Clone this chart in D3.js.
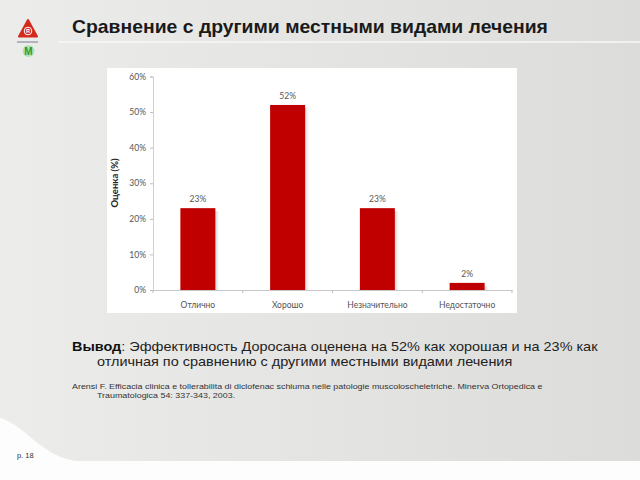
<!DOCTYPE html>
<html><head><meta charset="utf-8">
<script src="https://cdn.jsdelivr.net/npm/d3@7/dist/d3.min.js"></script>
<style>body{margin:0;padding:0;overflow:hidden}svg{display:block}</style>
</head><body>
<script>
const categories = ["Отлично", "Хорошо", "Незначительно", "Недостаточно"];
const values = [0.23, 0.52, 0.23, 0.02];
const valueLabels = ["23%", "52%", "23%", "2%"];
const yTicks = [0, 0.1, 0.2, 0.3, 0.4, 0.5, 0.6];
const title = "Сравнение с другими местными видами лечения";
const yTitle = "Оценка (%)";
const conclusionBold = "Вывод";
const conclusion1 = ": Эффективность Доросана оценена на 52% как хорошая и на 23% как";
const conclusion2 = "отличная по сравнению с другими местными видами лечения";
const ref1 = "Arensi F. Efficacia clinica e tollerabilita di diclofenac schiuma nelle patologie muscoloscheletriche. Minerva Ortopedica e";
const ref2 = "Traumatologica 54: 337-343, 2003.";
const pageLabel = "p. 18";

const W = 640, H = 480;
const svg = d3.select("body").append("svg").attr("width", W).attr("height", H);
const defs = svg.append("defs");
const bg = defs.append("linearGradient").attr("id", "bg").attr("x1", 0).attr("x2", 1).attr("y1", 0).attr("y2", 0);
bg.append("stop").attr("offset", 0).attr("stop-color", "#ececea");
bg.append("stop").attr("offset", 1).attr("stop-color", "#dcdcda");
const sh = defs.append("linearGradient").attr("id", "sh").attr("x1", 0).attr("x2", 1);
sh.append("stop").attr("offset", 0).attr("stop-color", "#999").attr("stop-opacity", 0.5);
sh.append("stop").attr("offset", 1).attr("stop-color", "#fff").attr("stop-opacity", 0);

svg.append("rect").attr("width", W).attr("height", H).attr("fill", "url(#bg)");
svg.append("path").attr("d", "M0,418 C25,425 40,455 75,461 L640,461 L640,480 L0,480 Z").attr("fill", "#fdfdfd");

svg.append("line").attr("x1", 58).attr("x2", 640).attr("y1", 42).attr("y2", 42).attr("stroke", "#f7f7f7").attr("stroke-width", 1.5);
svg.append("line").attr("x1", 17).attr("x2", 38).attr("y1", 42).attr("y2", 42).attr("stroke", "#8a8fa0").attr("stroke-width", 1.2);

// logo
svg.append("path").attr("d", "M28,20 L37,36.5 L19,36.5 Z").attr("fill", "#d42a1c").attr("stroke", "#d42a1c").attr("stroke-width", 2).attr("stroke-linejoin", "round");
svg.append("circle").attr("cx", 28).attr("cy", 31).attr("r", 3.8).attr("fill", "none").attr("stroke", "#fff").attr("stroke-width", 1);
svg.append("text").attr("x", 28).attr("y", 33).attr("text-anchor", "middle").attr("font-family", "Liberation Sans, Arial").attr("font-size", 5.5).attr("font-weight", "bold").attr("fill", "#fff").text("R");
svg.append("circle").attr("cx", 28.5).attr("cy", 51).attr("r", 6).attr("fill", "#b5e0b5");
svg.append("text").attr("x", 28.5).attr("y", 54.5).attr("text-anchor", "middle").attr("font-family", "Liberation Sans, Arial").attr("font-size", 10).attr("font-weight", "bold").attr("fill", "#2e9a2e").text("M");

const tf = "Liberation Sans, Arial, sans-serif";
function stretched(x0, yb, size, txt, width, opts = {}) {
  const g = svg.append("g");
  const t = g.append("text").attr("x", 0).attr("y", 0).attr("font-family", tf).attr("font-size", size).attr("fill", opts.fill || "#222");
  if (opts.weight) t.attr("font-weight", opts.weight);
  if (opts.bold) { t.append("tspan").attr("font-weight", "bold").attr("fill", "#111").text(opts.bold); t.append("tspan").text(txt); }
  else t.text(txt);
  const len = t.node().getComputedTextLength();
  const sx = opts.sx || width / len;
  g.attr("transform", `translate(${x0},${yb}) scale(${sx},1)`);
  return sx;
}

stretched(72, 33, 18.6, title, 476, { weight: "bold", fill: "#1a1a1a" });

svg.append("rect").attr("x", 107).attr("y", 68).attr("width", 410).attr("height", 245).attr("fill", "#ffffff");

const x = d3.scaleBand().domain(categories).range([153, 512]).paddingInner(0.61).paddingOuter(0.305);
const y = d3.scaleLinear().domain([0, 0.6]).range([290, 76.5]);

const font = "Lato, 'Open Sans', sans-serif";
const yAxis = svg.append("g").attr("transform", "translate(153,0)")
  .call(d3.axisLeft(y).tickValues(yTicks).tickFormat(d3.format(".0%")).tickSize(3).tickPadding(4));
yAxis.select(".domain").attr("stroke", "#d0d0d0");
yAxis.selectAll(".tick line").attr("stroke", "#bdbdbd");
yAxis.selectAll("text").attr("font-family", font).attr("font-size", 8.5).attr("fill", "#555");

const xAxis = svg.append("g").attr("transform", "translate(0,290)")
  .call(d3.axisBottom(x).tickSize(0).tickPadding(12));
xAxis.select(".domain").attr("stroke", "#c8c8c8");
xAxis.selectAll("text").attr("font-family", font).attr("font-size", 8.5).attr("fill", "#555");
const bounds = d3.range(categories.length + 1).map(i => 153 + i * x.step());
svg.append("g").selectAll("line").data(bounds).join("line")
  .attr("x1", d => d).attr("x2", d => d).attr("y1", 290).attr("y2", 293).attr("stroke", "#bdbdbd");

svg.append("g").selectAll("rect").data(values).join("rect")
  .attr("x", (d, i) => x(categories[i]) + x.bandwidth())
  .attr("y", d => y(d) + 3)
  .attr("width", 5)
  .attr("height", d => Math.max(0, y(0) - y(d) - 3))
  .attr("fill", "url(#sh)");
svg.append("g").selectAll("rect").data(values).join("rect")
  .attr("x", (d, i) => x(categories[i]))
  .attr("y", d => y(d))
  .attr("width", x.bandwidth())
  .attr("height", d => y(0) - y(d))
  .attr("fill", "#c00000");
svg.append("g").selectAll("text").data(values).join("text")
  .attr("x", (d, i) => x(categories[i]) + x.bandwidth() / 2)
  .attr("y", d => y(d) - 6)
  .attr("text-anchor", "middle")
  .attr("font-family", font).attr("font-size", 8.5).attr("fill", "#555")
  .text((d, i) => valueLabels[i]);

svg.append("text").attr("transform", "translate(118,183) rotate(-90)").attr("text-anchor", "middle")
  .attr("font-family", font).attr("font-size", 9.5).attr("font-weight", "bold").attr("fill", "#222").text(yTitle);

const sx = stretched(72, 350.5, 13.5, conclusion1, 526, { bold: conclusionBold });
stretched(97, 366, 13.5, conclusion2, 0, { sx: sx });

const sx2 = stretched(72, 388.5, 7, ref1, 471, { fill: "#333" });
stretched(97, 398, 7, ref2, 0, { sx: sx2, fill: "#333" });

svg.append("text").attr("x", 17).attr("y", 458).attr("font-family", tf).attr("font-size", 7.5).attr("fill", "#333").text(pageLabel);
</script>
</body></html>
